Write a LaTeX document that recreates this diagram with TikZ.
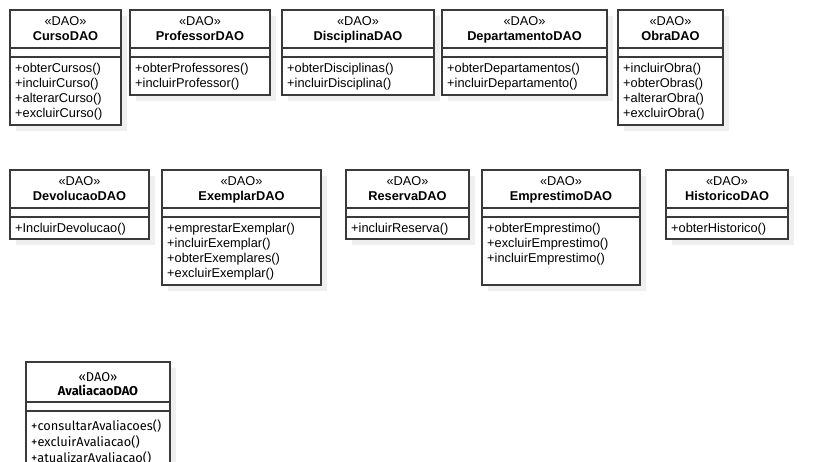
\documentclass[tikz,border=0pt]{standalone}
\usepackage{fontspec}
\setmainfont{Liberation Sans}
\newfontfamily\firafont{Fira Sans}

\definecolor{daogray}{HTML}{EFEFEF}
\definecolor{daoborder}{HTML}{3A3A3A}

% measures of a class box, counted from its top edge
\newcommand{\daofont}{\normalfont}
\newcommand{\daost}{15pt}
\newcommand{\daoname}{30pt}
\newcommand{\daohead}{38pt}
\newcommand{\daoattr}{47pt}
\newcommand{\daoops}{53pt}
\newcommand{\daoskip}{15}

\tikzset{
daoshadow/.style={fill=daogray, draw=none, anchor=north west, inner sep=0pt, outer sep=0pt}, % the grey drop shadow
daoframe/.style={draw=daoborder, line width=1.2pt, fill=white, anchor=north west, inner sep=0pt, outer sep=0pt},
daoline/.style={draw=daoborder, line width=1.2pt},
stereo/.style={anchor=base, inner sep=0pt, font=\daofont\fontsize{12.8}{15}\selectfont},
classname/.style={anchor=base, inner sep=0pt, font=\daofont\bfseries\fontsize{12.8}{15}\selectfont},
methods/.style={anchor=north west, inner sep=0pt, align=left, font=\daofont\fontsize{12.8}{\daoskip}\selectfont},
}

% #1 id, #2 x, #3 y, #4 width, #5 height, #6 class name, #7 operations
\newcommand{\daoclass}[7]{
  \node[daoshadow, minimum width=#4pt, minimum height=#5pt] (#1-shadow) at (#2+6,#3+6) {};
  \node[daoframe, minimum width=#4pt, minimum height=#5pt] (#1) at (#2,#3) {};
  \draw[daoline] ([yshift=-\daohead]#1.north west) -- ([yshift=-\daohead]#1.north east);
  \draw[daoline] ([yshift=-\daoattr]#1.north west) -- ([yshift=-\daoattr]#1.north east);
  \node[stereo] (#1-st) at ([yshift=-\daost]#1.north) {«DAO»};
  \node[classname] (#1-name) at ([yshift=-\daoname]#1.north) {#6};
  \node[methods] (#1-ops) at ([xshift=5pt,yshift=-\daoops]#1.north west) {#7};
}

\begin{document}
\begin{tikzpicture}[x=1pt, y=-1pt]
  \useasboundingbox (0,0) rectangle (828,461);
  \clip (0,0) rectangle (828,461);

  % Row 1
  \daoclass{curso}{10}{10}{111}{115}{CursoDAO}
    {+obterCursos()\\+incluirCurso()\\+alterarCurso()\\+excluirCurso()}
  \daoclass{professor}{130}{10}{140}{85}{ProfessorDAO}
    {+obterProfessores()\\+incluirProfessor()}
  \daoclass{disciplina}{282}{10}{152}{85}{DisciplinaDAO}
    {+obterDisciplinas()\\+incluirDisciplina()}
  \daoclass{departamento}{442}{10}{165}{85}{DepartamentoDAO}
    {+obterDepartamentos()\\+incluirDepartamento()}
  \daoclass{obra}{618}{10}{105}{115}{ObraDAO}
    {+incluirObra()\\+obterObras()\\+alterarObra()\\+excluirObra()}

  % Row 2
  \daoclass{devolucao}{10}{170}{139}{69}{DevolucaoDAO}
    {+IncluirDevolucao()}
  \daoclass{exemplar}{162}{170}{159}{115}{ExemplarDAO}
    {+emprestarExemplar()\\+incluirExemplar()\\+obterExemplares()\\+excluirExemplar()}
  \daoclass{reserva}{346}{170}{123}{69}{ReservaDAO}
    {+incluirReserva()}
  \daoclass{emprestimo}{482}{170}{158}{115}{EmprestimoDAO}
    {+obterEmprestimo()\\+excluirEmprestimo()\\+incluirEmprestimo()}
  \daoclass{historico}{666}{170}{122}{69}{HistoricoDAO}
    {+obterHistorico()}

  % Row 3, set in another face
  \begin{scope}
    \renewcommand{\daofont}{\firafont}
    \renewcommand{\daost}{19pt}
    \renewcommand{\daoname}{33pt}
    \renewcommand{\daohead}{40pt}
    \renewcommand{\daoattr}{49pt}
    \renewcommand{\daoops}{57pt}
    \renewcommand{\daoskip}{16}
    \daoclass{avaliacao}{26}{362}{144}{115}{AvaliacaoDAO}
      {+consultarAvaliacoes()\\+excluirAvaliacao()\\+atualizarAvaliacao()}
  \end{scope}
\end{tikzpicture}
\end{document}
